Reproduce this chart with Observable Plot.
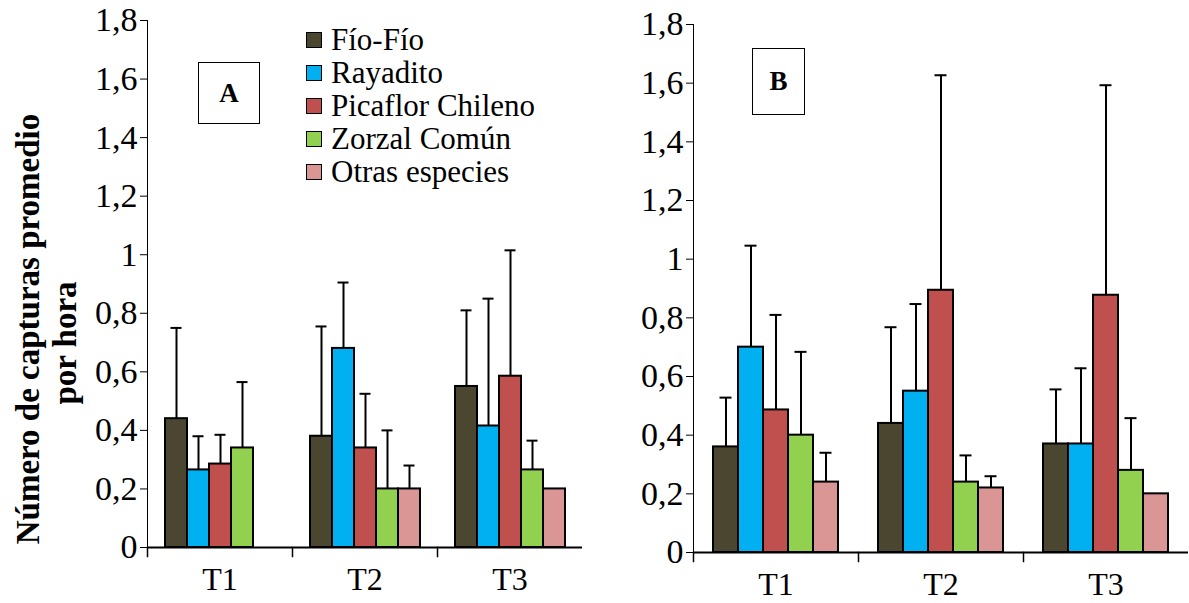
<!DOCTYPE html>
<html><head><meta charset="utf-8">
<script src="https://cdn.jsdelivr.net/npm/d3@7"></script>
<script src="https://cdn.jsdelivr.net/npm/@observablehq/plot@0.6"></script>
<style>
body{margin:0;background:#fff;font-family:"Liberation Serif","Times New Roman",serif;color:#000;}
#wrap{position:relative;width:1189px;height:603px;overflow:hidden;background:#fff;}
.panel{position:absolute;top:0;}
.ylab{position:absolute;width:560px;left:-233px;top:292px;transform:rotate(-90deg);transform-origin:50% 50%;text-align:center;font-weight:bold;font-size:33px;line-height:37px;}
.ylab .l2{padding-right:28px;}
.legend{position:absolute;left:306px;top:23px;font-size:31px;}
.legend .row{display:flex;align-items:center;height:33px;white-space:nowrap;}
.legend .sw{width:14px;height:14px;border:1.5px solid #000;margin-right:9px;flex:none;}
.box{position:absolute;border:1.5px solid #000;display:flex;align-items:center;justify-content:center;font-weight:bold;font-size:27px;background:#fff;}
</style></head><body><div id="wrap"></div>
<script>
const treatments = ["T1", "T2", "T3"];
const species = ["Fío-Fío", "Rayadito", "Picaflor Chileno", "Zorzal Común", "Otras especies"];
const colors = ["#4b4630", "#00b0f0", "#c0504d", "#92d050", "#d99694"];
const yTicks = [0, 0.2, 0.4, 0.6, 0.8, 1, 1.2, 1.4, 1.6, 1.8];
const yLabelLines = ["Número de capturas promedio", "por hora"];
const panelLabels = ["A", "B"];

// Panel A: mean per species (rows) for T1, T2, T3 and upper error (SD)
const meanA = [
  [0.44, 0.38, 0.55],
  [0.265, 0.68, 0.415],
  [0.285, 0.34, 0.585],
  [0.34, 0.20, 0.265],
  [0, 0.20, 0.20]
];
const sdA = [
  [0.31, 0.375, 0.26],
  [0.115, 0.225, 0.435],
  [0.10, 0.185, 0.43],
  [0.225, 0.20, 0.10],
  [0, 0.08, 0]
];
// Panel B
const meanB = [
  [0.36, 0.44, 0.37],
  [0.70, 0.55, 0.37],
  [0.486, 0.894, 0.877],
  [0.40, 0.24, 0.28],
  [0.24, 0.22, 0.20]
];
const sdB = [
  [0.168, 0.328, 0.186],
  [0.346, 0.297, 0.258],
  [0.324, 0.733, 0.716],
  [0.284, 0.091, 0.178],
  [0.10, 0.04, 0]
];

function rowsOf(mean, sd) {
  const rows = [];
  species.forEach((s, i) => treatments.forEach((t, j) => rows.push({treat: t, species: s, mean: mean[i][j], sd: sd[i][j]})));
  return rows;
}
const fmt = d => String(d).replace(".", ",");

function panel({rows, width, marginLeft, marginRight, marginTop, marginBottom, capInset}) {
  const height = 603;
  const innerH = height - marginTop - marginBottom;
  const withSd = rows.filter(d => d.sd > 0);
  return Plot.plot({
    width, height, marginLeft, marginRight, marginTop, marginBottom,
    style: {fontFamily: "'Liberation Serif','Times New Roman',serif", fontSize: "34px", color: "#000", background: "transparent", overflow: "visible"},
    fx: {domain: treatments, padding: 0, label: null},
    x: {domain: species, paddingInner: 0, paddingOuter: 0.75, axis: null},
    y: {domain: [0, 1.8], ticks: yTicks, tickFormat: fmt, tickSize: 7, tickPadding: 3, label: null, line: true},
    color: {domain: species, range: colors},
    marks: [
      Plot.axisFx({anchor: "bottom", tickSize: 0, tickPadding: 20, fontSize: 32, label: null}),
      Plot.frame({anchor: "left", insetTop: innerH, insetBottom: -9, stroke: "#000", strokeWidth: 1.5}),
      Plot.ruleY([0], {stroke: "#000", strokeWidth: 2}),
      Plot.ruleX(withSd, {fx: "treat", x: "species", y1: "mean", y2: d => d.mean + d.sd, stroke: "#000", strokeWidth: 2}),
      Plot.tickY(withSd, {fx: "treat", x: "species", y: d => d.mean + d.sd, insetLeft: capInset, insetRight: capInset, stroke: "#000", strokeWidth: 2}),
      Plot.barY(rows, {fx: "treat", x: "species", y: "mean", fill: "species", stroke: "#000", strokeWidth: 2})
    ]
  });
}

const wrap = document.getElementById("wrap");
const pa = panel({rows: rowsOf(meanA, sdA), width: 595, marginLeft: 146, marginRight: 12, marginTop: 20, marginBottom: 56, capInset: 5.5});
pa.classList.add("panel"); pa.style.left = "0px";
wrap.appendChild(pa);
const pb = panel({rows: rowsOf(meanB, sdB), width: 594, marginLeft: 97, marginRight: 0, marginTop: 24, marginBottom: 51, capInset: 6.5});
pb.classList.add("panel"); pb.style.left = "595px";
wrap.appendChild(pb);

// y label
const yl = document.createElement("div");
yl.className = "ylab";
yl.innerHTML = yLabelLines.map((l, i) => `<div class="l${i + 1}">${l}</div>`).join("");
wrap.appendChild(yl);

// legend
const lg = document.createElement("div");
lg.className = "legend";
species.forEach((s, i) => {
  const r = document.createElement("div"); r.className = "row";
  const sw = document.createElement("span"); sw.className = "sw"; sw.style.background = colors[i];
  const tx = document.createElement("span"); tx.textContent = s;
  r.appendChild(sw); r.appendChild(tx); lg.appendChild(r);
});
wrap.appendChild(lg);

// panel boxes
const boxes = [{l: 198, t: 62, w: 60, h: 60}, {l: 752, t: 48, w: 51, h: 65}];
panelLabels.forEach((lab, i) => {
  const b = document.createElement("div"); b.className = "box";
  const g = boxes[i];
  Object.assign(b.style, {left: g.l + "px", top: g.t + "px", width: g.w + "px", height: g.h + "px"});
  b.textContent = lab; wrap.appendChild(b);
});
</script></body></html>
